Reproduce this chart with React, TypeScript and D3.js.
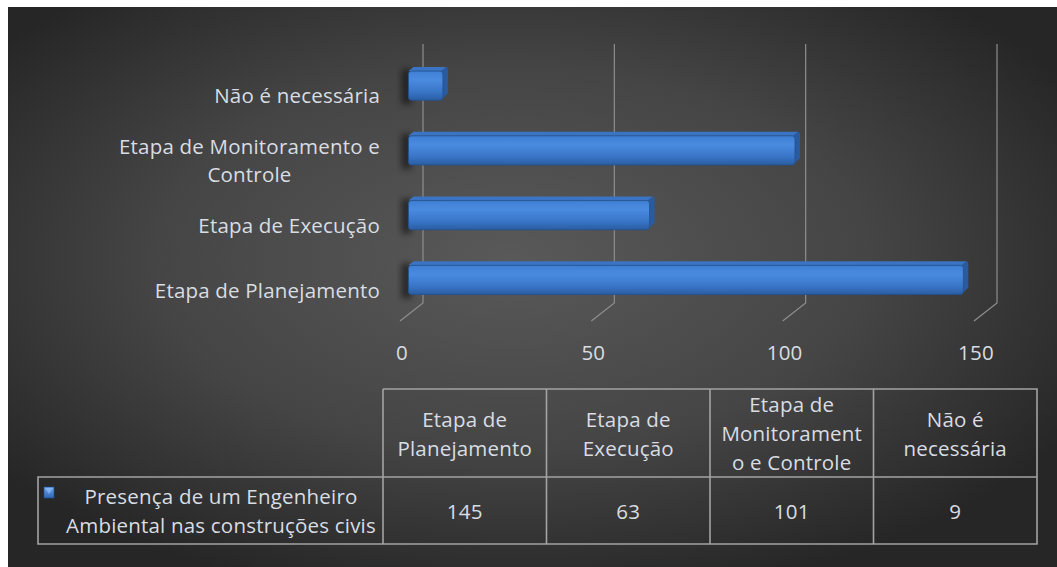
import React from "react";
import * as d3 from "d3";

const categories = [
  "Etapa de Planejamento",
  "Etapa de Execução",
  "Etapa de Monitoramento e Controle",
  "Não é necessária",
];
const categoryLabelLines = [
  ["Etapa de Planejamento"],
  ["Etapa de Execução"],
  ["Etapa de Monitoramento e", "Controle"],
  ["Não é necessária"],
];
const tableHeaderLines = [
  ["Etapa de", "Planejamento"],
  ["Etapa de", "Execução"],
  ["Etapa de", "Monitorament", "o e Controle"],
  ["Não é", "necessária"],
];
const seriesName = ["Presença de um Engenheiro", "Ambiental nas construções civis"];
const values = [145, 63, 101, 9];
const xTicks = [0, 50, 100, 150];

const W = 1057;
const H = 567;
const FONT = "'Open Sans', 'Noto Sans', sans-serif";
const FS = 20.5;
const LS = 0.2;
const TXT = "#d9dde2";
const GRID = "#8e8e8e";

function measure(text: string, size: number): number {
  let w = text.length * size * 0.55;
  if (typeof document !== "undefined") {
    const c = document.createElement("canvas");
    const ctx = c.getContext("2d");
    if (ctx) {
      ctx.font = `${size}px 'Open Sans'`;
      w = ctx.measureText(text).width;
    }
  }
  return w + LS * text.length;
}

export default function App() {
  const x = d3.scaleLinear().domain([0, 150]).range([423, 997]);
  const order = [...categories].reverse();
  const y = d3
    .scaleBand<string>()
    .domain(order)
    .range([42, 301])
    .paddingInner(0.55)
    .paddingOuter(0.275);
  const bw = y.bandwidth();

  const gridTop = 44;
  const gridBottom = 303;
  const floorDx = -23;
  const floorDy = 18;
  const frontDx = -14.5;
  const frontDy = 11.3;
  const depthDx = 5;
  const depthDy = -4;

  const colX = d3.scaleBand<string>().domain(categories).range([383, 1037]);
  const tLeft = 38;
  const tTop = 389;
  const tMid = 477;
  const tBot = 544;
  const lineH = 29;

  const textProps = {
    fill: TXT,
    fontFamily: FONT,
    fontSize: FS,
    letterSpacing: LS,
  };

  return (
    <svg
      width={W}
      height={H}
      style={{ position: "absolute", left: 0, top: 0, display: "block" }}
      xmlns="http://www.w3.org/2000/svg"
    >
      <defs>
        <radialGradient id="bg" cx="48%" cy="45%" r="62%" fx="48%" fy="45%">
          <stop offset="0%" stopColor="#595959" />
          <stop offset="55%" stopColor="#454545" />
          <stop offset="100%" stopColor="#262626" />
        </radialGradient>
        <linearGradient id="barFront" x1="0" y1="0" x2="0" y2="1">
          <stop offset="0%" stopColor="#3f7fd3" />
          <stop offset="30%" stopColor="#4a8be0" />
          <stop offset="70%" stopColor="#3a76c8" />
          <stop offset="100%" stopColor="#2a5da3" />
        </linearGradient>
        <linearGradient id="icon" x1="0" y1="0" x2="0" y2="1">
          <stop offset="0%" stopColor="#6aa6f0" />
          <stop offset="100%" stopColor="#2f66b0" />
        </linearGradient>
        <filter id="shadow" x="-50%" y="-50%" width="200%" height="200%">
          <feGaussianBlur stdDeviation="3" />
        </filter>
      </defs>
      <rect x={0} y={0} width={W} height={H} fill="#ffffff" />
      <rect x={8} y={7} width={W - 8} height={H - 7} fill="url(#bg)" />

      {xTicks.map((t) => (
        <path
          key={"g" + t}
          d={`M${x(t)},${gridTop}V${gridBottom}l${floorDx},${floorDy}`}
          fill="none"
          stroke={GRID}
          strokeWidth={1.2}
        />
      ))}
      {xTicks.map((t) => (
        <text
          key={"t" + t}
          x={x(t) - 21}
          y={352}
          {...textProps}
          textAnchor="middle"
          dominantBaseline="central"
        >
          {t}
        </text>
      ))}

      {categories.map((c, i) => {
        const v = values[i];
        const x0 = x(0) + frontDx;
        const x1 = x(v) + frontDx;
        const y0 = (y(c) as number) + frontDy;
        const y1 = y0 + bw;
        return (
          <g key={"b" + c}>
            <rect
              x={x0 - 7}
              y={y0 - 2}
              width={10}
              height={bw + 6}
              fill="#000"
              opacity={0.5}
              filter="url(#shadow)"
            />
            <path
              d={`M${x0},${y0}l${depthDx},${depthDy}H${x1 + depthDx - 2}L${x1},${y0}Z`}
              fill="#3a74c2"
            />
            <path
              d={`M${x1 - 2},${y0}l${depthDx},${depthDy}q2,0 2,3V${y1 + depthDy - 3}L${x1},${y1 - 2}Z`}
              fill="#2b5b9f"
            />
            <rect
              x={x0}
              y={y0}
              width={x1 - x0}
              height={bw}
              rx={3}
              fill="url(#barFront)"
              stroke="#23508f"
              strokeWidth={0.8}
            />
          </g>
        );
      })}

      {categories.map((c, i) => {
        const lines = categoryLabelLines[i];
        const cy = (y(c) as number) + bw / 2 + 21;
        const n = lines.length;
        const maxW = Math.max(...lines.map((l) => measure(l, FS)));
        const cx = 380 - maxW / 2;
        return (
          <text key={"l" + c} {...textProps} textAnchor="middle">
            {lines.map((ln, k) => (
              <tspan key={k} x={cx} y={cy + (k - (n - 1) / 2) * 28} dominantBaseline="central">
                {ln}
              </tspan>
            ))}
          </text>
        );
      })}

      <g stroke="#a3a3a3" strokeWidth={1.6} fill="none">
        <path d={`M383,${tTop}H1037V${tBot}H${tLeft}V${tMid}H1037`} />
        <path d={`M383,${tTop}V${tBot}`} />
        {categories.slice(1).map((c) => (
          <path key={"v" + c} d={`M${colX(c)},${tTop}V${tBot}`} />
        ))}
      </g>
      {categories.map((c, i) => {
        const cx = (colX(c) as number) + colX.bandwidth() / 2;
        const lines = tableHeaderLines[i];
        const n = lines.length;
        const cy = (tTop + tMid) / 2;
        return (
          <g key={"h" + c}>
            <text {...textProps} textAnchor="middle">
              {lines.map((ln, k) => (
                <tspan key={k} x={cx} y={cy + (k - (n - 1) / 2) * lineH} dominantBaseline="central">
                  {ln}
                </tspan>
              ))}
            </text>
            <text
              x={cx}
              y={(tMid + tBot) / 2}
              {...textProps}
              textAnchor="middle"
              dominantBaseline="central"
            >
              {values[i]}
            </text>
          </g>
        );
      })}
      <rect x={44} y={487} width={10} height={11} fill="url(#icon)" stroke="#1f4f8f" strokeWidth={0.6} />
      <path d="M45,488L49,494L53,488Z" fill="#9cc4f5" opacity={0.6} />
      <text {...textProps} textAnchor="middle">
        {seriesName.map((ln, k) => (
          <tspan key={k} x={221} y={(tMid + tBot) / 2 + (k - 0.5) * lineH} dominantBaseline="central">
            {ln}
          </tspan>
        ))}
      </text>
    </svg>
  );
}
